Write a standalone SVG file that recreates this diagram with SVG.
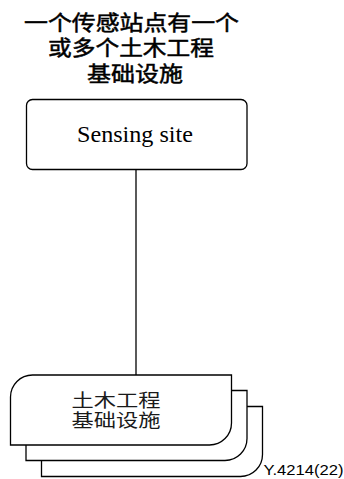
<svg xmlns="http://www.w3.org/2000/svg" width="344" height="479" viewBox="0 0 344 479">
<style>
.title{font-family:"Liberation Sans","Noto Sans CJK SC",sans-serif;font-size:21px;font-weight:normal;fill:#000;stroke:#000;stroke-width:0.5;text-anchor:middle}
.cn{font-family:"Liberation Sans","Noto Sans CJK SC",sans-serif;font-size:18px;fill:#1a1a1a;text-anchor:middle}
.serif{font-family:"Liberation Serif","Times New Roman",serif;font-size:24px;fill:#000;text-anchor:middle}
.note{font-family:"Liberation Sans",Arial,sans-serif;font-size:15px;fill:#000}
.box{fill:#fff;stroke:#000;stroke-width:1.3}
.line{stroke:#000;stroke-width:1.3;fill:none}
</style>
<defs>
<path id="page" d="M10.5,445 V397 A22,22 0 0 1 32.5,375 H231.5 V423 A22,22 0 0 1 209.5,445 Z"/>
</defs>
<g id="title">
<text class="title" x="131.5" y="30" textLength="215" lengthAdjust="spacingAndGlyphs">一个传感站点有一个</text>
<text class="title" x="131" y="55" textLength="166" lengthAdjust="spacingAndGlyphs">或多个土木工程</text>
<text class="title" x="135" y="81" textLength="96" lengthAdjust="spacingAndGlyphs">基础设施</text>
</g>
<g id="connectors">
<line class="line" x1="136" y1="170" x2="136" y2="375"/>
</g>
<g id="sensing-site">
<rect class="box" x="26.5" y="99.5" width="220.5" height="70" rx="6"/>
<text class="serif" x="135" y="142" textLength="116" lengthAdjust="spacingAndGlyphs">Sensing site</text>
</g>
<g id="infrastructure">
<use href="#page" class="box" transform="translate(31,31.5)"/>
<use href="#page" class="box" transform="translate(15.5,15.5)"/>
<use href="#page" class="box"/>
<text class="cn" x="116" y="406.5" textLength="89" lengthAdjust="spacingAndGlyphs">土木工程</text>
<text class="cn" x="116" y="427" textLength="89" lengthAdjust="spacingAndGlyphs">基础设施</text>
</g>
<g id="label">
<text class="note" x="263.5" y="475" textLength="80" lengthAdjust="spacingAndGlyphs">Y.4214(22)</text>
</g>
</svg>
